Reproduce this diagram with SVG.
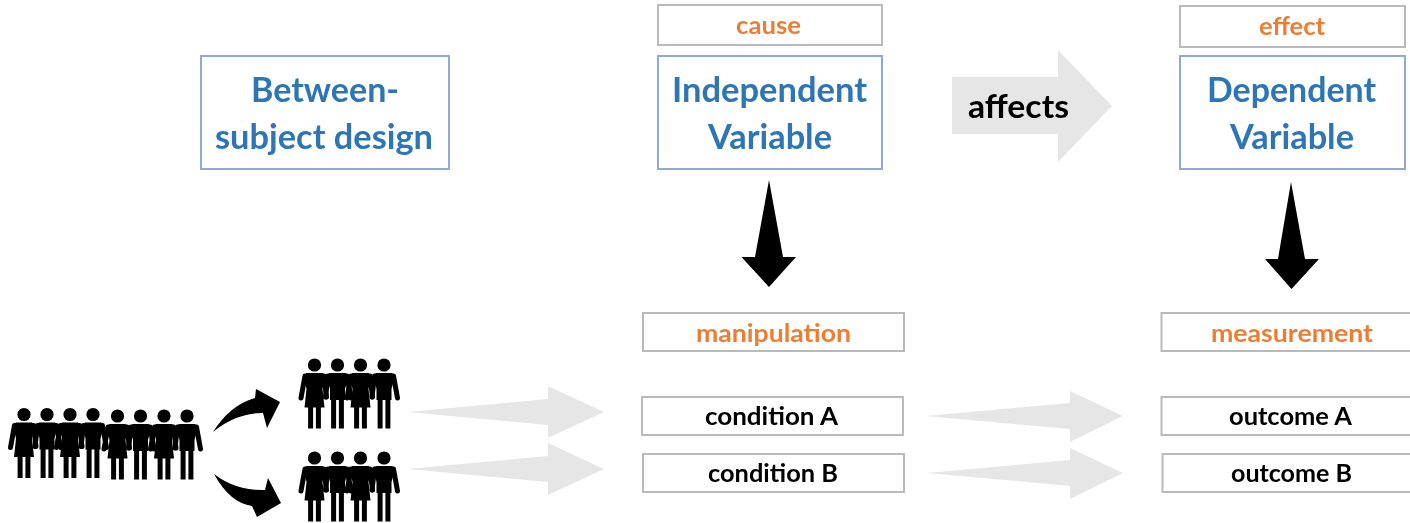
<svg xmlns="http://www.w3.org/2000/svg" width="1410" height="523" viewBox="0 0 1410 523">
<style>
text{font-family:"Lato","Liberation Sans",sans-serif;font-weight:700;text-anchor:middle}
.b{fill:#fff;stroke:#bababa;stroke-width:2}
.h{fill:#fff;stroke:#8faad8;stroke-width:2}
.t{fill:#2e75b6;font-size:34px}
.o{fill:#ed7d31;font-size:24px}
.k{fill:#000;font-size:24px}
.g{fill:#e6e6e6}
.s{fill:#000}
.arm{fill:none;stroke:#000;stroke-width:5;stroke-linecap:round;stroke-linejoin:round}
</style>
<defs>
<filter id="soft" x="-5%" y="-5%" width="110%" height="110%"><feGaussianBlur stdDeviation="0.7"/></filter>
<g id="woman"><circle cx="0" cy="0" r="6.600"/><path d="M-8 8H8L11 11 8 24 10 42.500H-10L-8 24-11 11Z"/><rect x="-6.400" y="42" width="5" height="21.500"/><rect x="1.400" y="42" width="5" height="21.500"/><path class="arm" d="M-9.500 11-13.500 33M9.500 11 12 32"/></g>
<g id="man"><circle cx="0" cy="0" r="6.600"/><path d="M-8 8H8L11 11 7.500 24V35H-7.500V24L-11 11Z"/><rect x="-6.400" y="33" width="5" height="30.500"/><rect x="1.400" y="33" width="5" height="30.500"/><path class="arm" d="M-9.500 11-12 32M9.500 11 13.500 33"/></g>
<g id="four"><use href="#woman" x="0"/><use href="#man" x="23"/><use href="#woman" x="46"/><use href="#man" x="69.500"/></g>
</defs>
<g filter="url(#soft)">
<g id="connectors">
<path class="g" d="M952 77H1058V50L1112 106 1058 162V134H952Z"/>
<text x="1018.500" y="118" style="font-size:33px" fill="#000" textLength="101" lengthAdjust="spacingAndGlyphs">affects</text>
<path class="s" d="M769 180 783 257H796L769 287 741.500 257H755Z"/>
<path class="s" d="M1291 182 1305 259H1319L1291.500 289 1265 259H1278Z"/>
<path class="g" d="M408 412 548 399V386L604 412 548 438V425Z"/>
<path class="g" d="M408 469 548 456V443L604 469 548 495V482Z"/>
<path class="g" d="M925 416 1070 403V391L1123 416 1070 442V429Z"/>
<path class="g" d="M927 473 1070 460V448L1123 473 1070 499V486Z"/>
<path class="s" d="M213 432Q230 405 255 398L256 389 280 402 267 428 263 413Q236 413 213 432Z"/>
<path class="s" d="M214 474Q236 491 265 490L268 478 281 503 257 517 252 506Q230 503 214 474Z"/>
</g>
<g id="people-all"><use href="#woman" x="24" y="414.500"/><use href="#man" x="47" y="414.500"/><use href="#woman" x="70" y="414.500"/><use href="#man" x="93" y="414.500"/><use href="#woman" x="117.500" y="416"/><use href="#man" x="140.500" y="416"/><use href="#woman" x="164" y="416"/><use href="#man" x="187" y="416"/></g>
<g id="people-a"><use href="#four" x="314.500" y="365"/></g>
<g id="people-b"><use href="#four" x="314.500" y="458"/></g>
<g id="between"><rect class="h" x="201" y="56" width="248" height="113"/><text class="t" x="325" y="102" textLength="148" lengthAdjust="spacingAndGlyphs">Between-</text><text class="t" x="324" y="149" textLength="218" lengthAdjust="spacingAndGlyphs">subject design</text></g>
<g id="cause"><rect class="b" x="658" y="5" width="224" height="40"/><text class="o" x="768.500" y="34" textLength="65" lengthAdjust="spacingAndGlyphs">cause</text></g>
<g id="independent"><rect class="h" x="658" y="56" width="224" height="113"/><text class="t" x="769.500" y="102" textLength="195" lengthAdjust="spacingAndGlyphs">Independent</text><text class="t" x="770" y="149" textLength="124" lengthAdjust="spacingAndGlyphs">Variable</text></g>
<g id="effect"><rect class="b" x="1180" y="6" width="225" height="41"/><text class="o" x="1292" y="35" textLength="66" lengthAdjust="spacingAndGlyphs">effect</text></g>
<g id="dependent"><rect class="h" x="1180" y="56" width="225" height="113"/><text class="t" x="1291.500" y="102" textLength="169" lengthAdjust="spacingAndGlyphs">Dependent</text><text class="t" x="1292" y="149" textLength="124" lengthAdjust="spacingAndGlyphs">Variable</text></g>
<g id="manipulation"><rect class="b" x="643" y="313" width="261" height="38"/><text class="o" x="773.500" y="342" textLength="155" lengthAdjust="spacingAndGlyphs">manipulation</text></g>
<g id="measurement"><rect class="b" x="1161.500" y="313" width="260" height="38"/><text class="o" x="1292" y="342" textLength="162" lengthAdjust="spacingAndGlyphs">measurement</text></g>
<g id="condition-a"><rect class="b" x="642" y="397" width="261" height="38"/><text class="k" x="771.500" y="425" textLength="133" lengthAdjust="spacingAndGlyphs">condition A</text></g>
<g id="condition-b"><rect class="b" x="643" y="454" width="261" height="38"/><text class="k" x="773" y="482" textLength="130" lengthAdjust="spacingAndGlyphs">condition B</text></g>
<g id="outcome-a"><rect class="b" x="1161.500" y="397" width="260" height="38"/><text class="k" x="1290.500" y="425" textLength="123" lengthAdjust="spacingAndGlyphs">outcome A</text></g>
<g id="outcome-b"><rect class="b" x="1162.500" y="454" width="260" height="38"/><text class="k" x="1291.500" y="482" textLength="121" lengthAdjust="spacingAndGlyphs">outcome B</text></g>
</g>
</svg>
